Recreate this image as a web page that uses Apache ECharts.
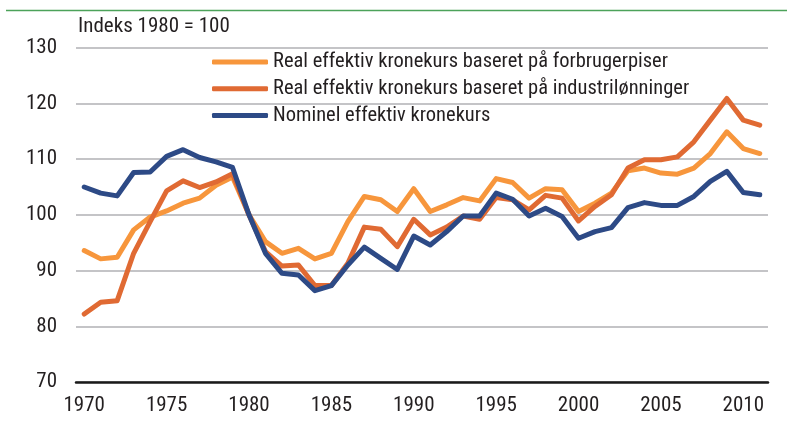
<!DOCTYPE html>
<html><head><meta charset="utf-8">
<script src="https://cdn.jsdelivr.net/npm/echarts@6/dist/echarts.min.js"></script>
<style>html,body{margin:0;padding:0;background:#fff}#c{width:787px;height:423px}</style>
</head><body><div id="c"></div>
<script>
const years = [];
for (let y = 1970; y <= 2011; y++) years.push(String(y));
const forbrugerpriser = [93.6,92.1,92.4,97.3,99.6,100.7,102.1,103.0,105.3,106.8,
  100.0,95.2,93.1,94.0,92.1,93.1,98.8,103.3,102.7,100.6,
  104.7,100.6,101.8,103.1,102.5,106.5,105.8,103.0,104.7,104.5,
  100.6,102.1,103.9,107.9,108.4,107.5,107.3,108.4,111.0,114.9,111.9,111.0];
const industrilonninger = [82.2,84.3,84.6,93.1,98.8,104.3,106.1,104.9,105.9,107.4,
  100.0,93.4,90.8,91.0,87.3,87.3,91.3,97.8,97.4,94.3,
  99.2,96.4,97.8,99.8,99.2,103.1,102.7,100.9,103.5,103.0,
  98.9,101.5,103.6,108.4,109.9,109.9,110.4,113.1,117.0,120.9,117.0,116.1];
const nominel = [105.0,103.9,103.4,107.6,107.7,110.5,111.7,110.3,109.5,108.5,
  100.0,93.1,89.5,89.2,86.4,87.3,91.0,94.2,92.2,90.2,
  96.2,94.6,97.0,99.8,99.8,103.9,102.8,99.8,101.2,99.7,
  95.8,97.0,97.7,101.3,102.2,101.7,101.7,103.3,106.0,107.8,104.0,103.6];
const names = ['Real effektiv kronekurs baseret på forbrugerpiser',
  'Real effektiv kronekurs baseret på industrilønninger',
  'Nominel effektiv kronekurs'];
const colors = ['#F7963C', '#E06A33', '#2D4A86'];
const FONT = '"Liberation Sans Narrow","Roboto Condensed","Liberation Sans",sans-serif';
const chart = echarts.init(document.getElementById('c'), null, {renderer:'canvas'});
const mk = (name, data, color) => ({
  name, type:'line', data, symbol:'none', smooth:false,
  lineStyle:{color, width:5, cap:'round', join:'round'}, itemStyle:{color},
});
chart.setOption({
  animation:false,
  textStyle:{fontFamily:FONT},
  graphic:[
    {type:'line', shape:{x1:6,y1:10.5,x2:787,y2:10.5}, style:{stroke:'#4CA25A', lineWidth:1.5}},
    {type:'text', left:78, top:16, style:{text:'Indeks 1980 = 100', font:'21px '+FONT, fill:'#231F20'}}
  ],
  legend:{
    orient:'vertical', left:207, top:45, itemWidth:56, itemHeight:5, itemGap:2.7,
    icon:'roundRect',
    textStyle:{fontSize:20.5, color:'#231F20', lineHeight:24, fontFamily:FONT},
    data:names
  },
  grid:{left:76, right:19, top:47.7, bottom:41},
  xAxis:{
    type:'category', data:years, boundaryGap:true,
    axisLine:{lineStyle:{color:'#1a1a1a', width:2.5}},
    axisTick:{show:false},
    axisLabel:{interval:4, fontSize:21, color:'#231F20', margin:13, fontFamily:FONT}
  },
  yAxis:{
    type:'value', min:70, max:130, interval:10,
    axisLine:{show:false}, axisTick:{show:false},
    axisLabel:{fontSize:21, color:'#231F20', margin:19, fontFamily:FONT},
    splitLine:{lineStyle:{color:'#B0B0B4', width:1.5}}
  },
  series:[mk(names[0], forbrugerpriser, colors[0]), mk(names[1], industrilonninger, colors[1]), mk(names[2], nominel, colors[2])]
});
</script></body></html>
